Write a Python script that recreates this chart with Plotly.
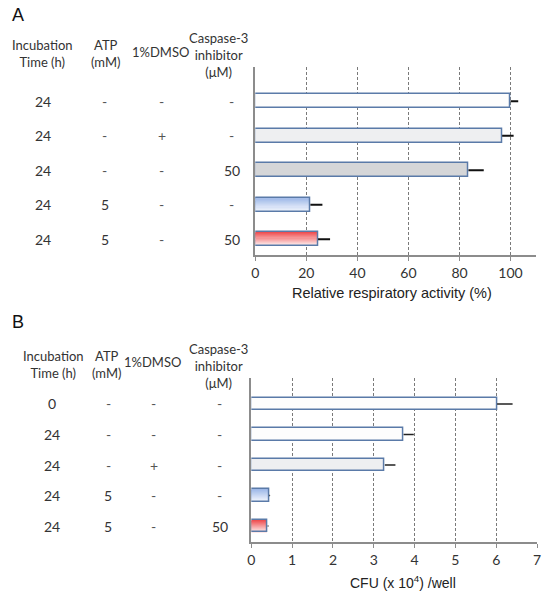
import plotly.graph_objects as go

# ---------------- data ----------------
# Panel A
a_time = ["24", "24", "24", "24", "24"]
a_atp = ["-", "-", "-", "5", "5"]
a_dmso = ["-", "+", "-", "-", "-"]
a_casp = ["-", "-", "50", "-", "50"]
a_values = [100, 96.7, 83.5, 21.6, 24.6]
a_errors = [3.0, 4.5, 6.0, 4.7, 4.7]
a_ticks = [0, 20, 40, 60, 80, 100]

# Panel B
b_time = ["0", "24", "24", "24", "24"]
b_atp = ["-", "-", "-", "5", "5"]
b_dmso = ["-", "-", "+", "-", "-"]
b_casp = ["-", "-", "-", "-", "50"]
b_values = [6.02, 3.73, 3.27, 0.44, 0.40]
b_errors = [0.38, 0.25, 0.26, 0.02, 0.02]
b_ticks = [0, 1, 2, 3, 4, 5, 6, 7]

# fills: solid colour, or (top, bottom) gradient
a_fills = ["#fdfdfd", "#eeeff1", "#d5d6d8", ("#9fb9e8", "#edf2fc"), ("#ef4f51", "#fde6e6")]
b_fills = ["#fdfdfd", "#fdfdfd", "#eeeff1", ("#9fb9e8", "#edf2fc"), ("#ef4f51", "#fde6e6")]

W, H = 546, 592
TXT = "Lato"
ARIAL = "Liberation Sans, Arial"
TXT_COLOR = "#333333"
EDGE = "#5a7aa8"
BAR_W = 0.40
N_SLICES = 12


def px(x):
    return x / W


def py(y):
    return 1 - y / H


def hex2rgb(h):
    h = h.lstrip("#")
    return [int(h[i:i + 2], 16) for i in (0, 2, 4)]


def mix(c1, c2, t):
    a, b = hex2rgb(c1), hex2rgb(c2)
    return "rgb(%d,%d,%d)" % tuple(round(a[i] + (b[i] - a[i]) * t) for i in range(3))


fig = go.Figure()
rows = list(range(5))


def add_panel(values, errors, fills, xa, ya, err_color, err_thick):
    # fills
    for i in rows:
        f = fills[i]
        if isinstance(f, tuple):
            sw = BAR_W / N_SLICES
            for k in range(N_SLICES):
                fig.add_trace(go.Bar(
                    x=[values[i]], y=[i], orientation="h", width=sw * 1.05,
                    offset=-BAR_W / 2 + k * sw,
                    marker=dict(color=mix(f[0], f[1], k / (N_SLICES - 1)), line=dict(width=0)),
                    xaxis=xa, yaxis=ya, showlegend=False, hoverinfo="skip",
                ))
        else:
            fig.add_trace(go.Bar(
                x=[values[i]], y=[i], orientation="h", width=BAR_W, offset=-BAR_W / 2,
                marker=dict(color=f, line=dict(width=0)),
                xaxis=xa, yaxis=ya, showlegend=False, hoverinfo="skip",
            ))
    # outlines + error bars
    fig.add_trace(go.Bar(
        x=values, y=rows, orientation="h", width=BAR_W, offset=-BAR_W / 2,
        marker=dict(color="rgba(0,0,0,0)", line=dict(color=EDGE, width=1.5)),
        error_x=dict(type="data", array=errors, arrayminus=[0] * 5, symmetric=False,
                     color=err_color, thickness=err_thick, width=0),
        xaxis=xa, yaxis=ya, showlegend=False, hoverinfo="skip",
    ))


add_panel(a_values, a_errors, a_fills, "x", "y", "#111111", 2)
add_panel(b_values, b_errors, b_fills, "x2", "y2", "#222222", 1.5)

axis_common = dict(
    showline=True, linecolor="#8c8c8c", linewidth=1.5,
    showgrid=True, gridcolor="#7a7a7a", gridwidth=1, griddash="3px,2px",
    zeroline=False, ticks="outside", ticklen=4, tickcolor="#8c8c8c",
    tickfont=dict(family=TXT, size=14, color=TXT_COLOR),
)
yaxis_common = dict(showticklabels=False, showgrid=False, zeroline=False, showline=True,
                    linecolor="#8c8c8c", linewidth=1.5, ticks="")

fig.update_layout(
    width=W, height=H,
    margin=dict(l=0, r=0, t=0, b=0),
    paper_bgcolor="white", plot_bgcolor="white",
    barmode="overlay", bargap=0,
    xaxis=dict(domain=[px(255), px(540)], range=[0, 110], tickvals=a_ticks,
               anchor="y", **axis_common),
    yaxis=dict(domain=[py(255), py(67)], range=[4.46, -0.99], anchor="x", **yaxis_common),
    xaxis2=dict(domain=[px(251), px(541)], range=[0, 7], tickvals=b_ticks,
                anchor="y2", **axis_common),
    yaxis2=dict(domain=[py(542), py(378)], range=[4.52, -0.85], anchor="x2", **yaxis_common),
)

ann = []


def text(x, y, s, size=13, family=TXT, xref="paper", yref="paper", color=TXT_COLOR):
    ann.append(dict(x=x, y=y, xref=xref, yref=yref, text=s, showarrow=False,
                    xanchor="center", yanchor="middle",
                    font=dict(family=family, size=size, color=color)))


# panel letters
for letter, yy in (("A", 15), ("B", 322)):
    ann.append(dict(x=px(6), y=py(yy), xref="paper", yref="paper", text=letter, showarrow=False,
                    xanchor="left", yanchor="middle",
                    font=dict(family=ARIAL, size=18, color="#111")))

# headers A
text(px(39), py(53.5), "Incubation<br>Time (h)")
text(px(103), py(53.5), "ATP<br>(mM)")
text(px(159), py(52), "1%DMSO")
text(px(218), py(54.5), "Caspase-3<br>inhibitor<br>(μM)")

# headers B
text(px(50), py(364), "Incubation<br>Time (h)")
text(px(104), py(364), "ATP<br>(mM)")
text(px(151), py(362), "1%DMSO")
text(px(218), py(365.5), "Caspase-3<br>inhibitor<br>(μM)")

# table rows A
for i in rows:
    for col, xs in zip([a_time, a_atp, a_dmso, a_casp], [40, 102, 160, 231]):
        text(px(xs), i, col[i], size=14, yref="y",
             color=TXT_COLOR if col[i] not in ("-", "+") else "#555")

# table rows B
for i in rows:
    for col, xs in zip([b_time, b_atp, b_dmso, b_casp], [49, 106, 152, 219]):
        text(px(xs), i, col[i], size=14, yref="y2",
             color=TXT_COLOR if col[i] not in ("-", "+") else "#555")

# axis titles
text(px(394), py(293), "Relative respiratory activity (%)", size=14.5, family=ARIAL, color="#222")
text(px(405), py(582), "CFU (x 10<sup>4</sup>) /well", size=14, family=ARIAL, color="#222")

fig.update_layout(annotations=ann)

fig.write_html(
    "out.html",
    config={"displayModeBar": False},
    post_script="document.body.style.margin='0';document.body.style.overflow='hidden';",
)
